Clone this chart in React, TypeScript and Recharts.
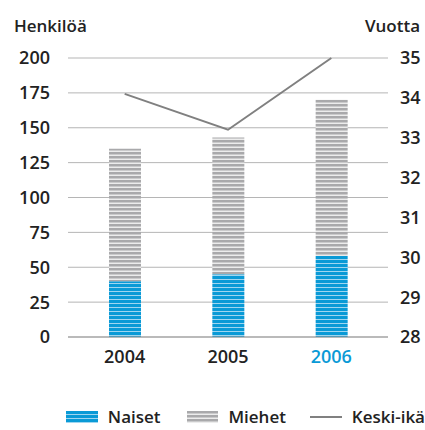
import { ComposedChart, Bar, Line, XAxis, YAxis, CartesianGrid, Legend } from "recharts"

const years = ["2004", "2005", "2006"]
const naiset = [40, 45, 58]
const miehet = [95, 98, 112]
const keskiIka = [34.1, 33.2, 35.0]
const leftTicks = [0, 25, 50, 75, 100, 125, 150, 175, 200]
const rightTicks = [28, 29, 30, 31, 32, 33, 34, 35]

const data = years.map((year, i) => ({
  year,
  naiset: naiset[i],
  miehet: miehet[i],
  ika: keskiIka[i],
}))

const font = "'Open Sans', sans-serif"
const blue = "#0a9ad6"
const grey = "#a9a9ab"

const XTick = (props: any) => {
  const { x, y, payload } = props
  return (
    <text x={x} y={y + 18} textAnchor="middle" fontFamily={font} fontSize={18} fontWeight={600}
      fill={payload.value === "2006" ? blue : "#222"}>
      {payload.value}
    </text>
  )
}

const LegendBox = () => (
  <div style={{ height: 62, boxSizing: "border-box", paddingTop: 40 }}>
    <div style={{ display: "flex", alignItems: "center", height: 18, lineHeight: "18px", whiteSpace: "nowrap", fontFamily: font, fontSize: 17, fontWeight: 600, color: "#222", paddingLeft: 66 }}>
      <svg width={32} height={12} style={{ marginRight: 10 }}>
        <rect width={32} height={12} fill="url(#naisetFill)" />
      </svg>
      <span style={{ marginRight: 26 }}>Naiset</span>
      <svg width={32} height={12} style={{ marginRight: 10 }}>
        <rect width={32} height={12} fill="url(#miehetFill)" />
      </svg>
      <span style={{ marginRight: 24 }}>Miehet</span>
      <svg width={32} height={12} style={{ marginRight: 10 }}>
        <line x1={0} y1={6} x2={32} y2={6} stroke="#808080" strokeWidth={2} />
      </svg>
      <span>Keski-ikä</span>
    </div>
  </div>
)

export default function App() {
  return (
    <div style={{ position: "absolute", left: 0, top: 0, width: 425, height: 430, background: "#fff" }}>
      <div style={{ position: "absolute", left: 14, top: 14, fontFamily: font, fontSize: 17, fontWeight: 600, color: "#222" }}>
        Henkilöä
      </div>
      <div style={{ position: "absolute", right: 5, top: 14, fontFamily: font, fontSize: 17, fontWeight: 600, color: "#222" }}>
        Vuotta
      </div>
      <ComposedChart width={425} height={430} data={data} margin={{ top: 58, right: 0, bottom: 0, left: 0 }}>
        <defs>
          <pattern id="naisetFill" width={4} height={4} patternUnits="userSpaceOnUse">
            <rect width={4} height={4} fill="#9fd6f0" />
            <rect width={4} height={3} fill={blue} />
          </pattern>
          <pattern id="miehetFill" width={4} height={4} patternUnits="userSpaceOnUse">
            <rect width={4} height={4} fill="#ececec" />
            <rect width={4} height={2.5} fill={grey} />
          </pattern>
        </defs>
        <CartesianGrid vertical={false} stroke="#b5b5b5" yAxisId="left" />
        <XAxis dataKey="year" height={31} tick={<XTick />} tickLine={false} axisLine={{ stroke: "#9a9a9a" }}
          padding={{ left: 5, right: 5 }} />
        <YAxis yAxisId="left" width={68} domain={[0, 200]} ticks={leftTicks} axisLine={false} tickLine={false}
          tickMargin={12} tick={{ fontFamily: font, fontSize: 18, fontWeight: 600, fill: "#222" }} />
        <YAxis yAxisId="right" orientation="right" width={37} domain={[28, 35]} ticks={rightTicks} axisLine={false}
          tickLine={false} tickMargin={6} tick={{ fontFamily: font, fontSize: 18, fontWeight: 600, fill: "#222" }} />
        <Bar yAxisId="left" dataKey="naiset" stackId="a" fill="url(#naisetFill)" barSize={32} isAnimationActive={false} />
        <Bar yAxisId="left" dataKey="miehet" stackId="a" fill="url(#miehetFill)" barSize={32} isAnimationActive={false} />
        <Line yAxisId="right" dataKey="ika" stroke="#808080" strokeWidth={2} dot={false} type="linear" isAnimationActive={false} />
        <Legend verticalAlign="bottom" content={<LegendBox />} />
      </ComposedChart>
    </div>
  )
}
